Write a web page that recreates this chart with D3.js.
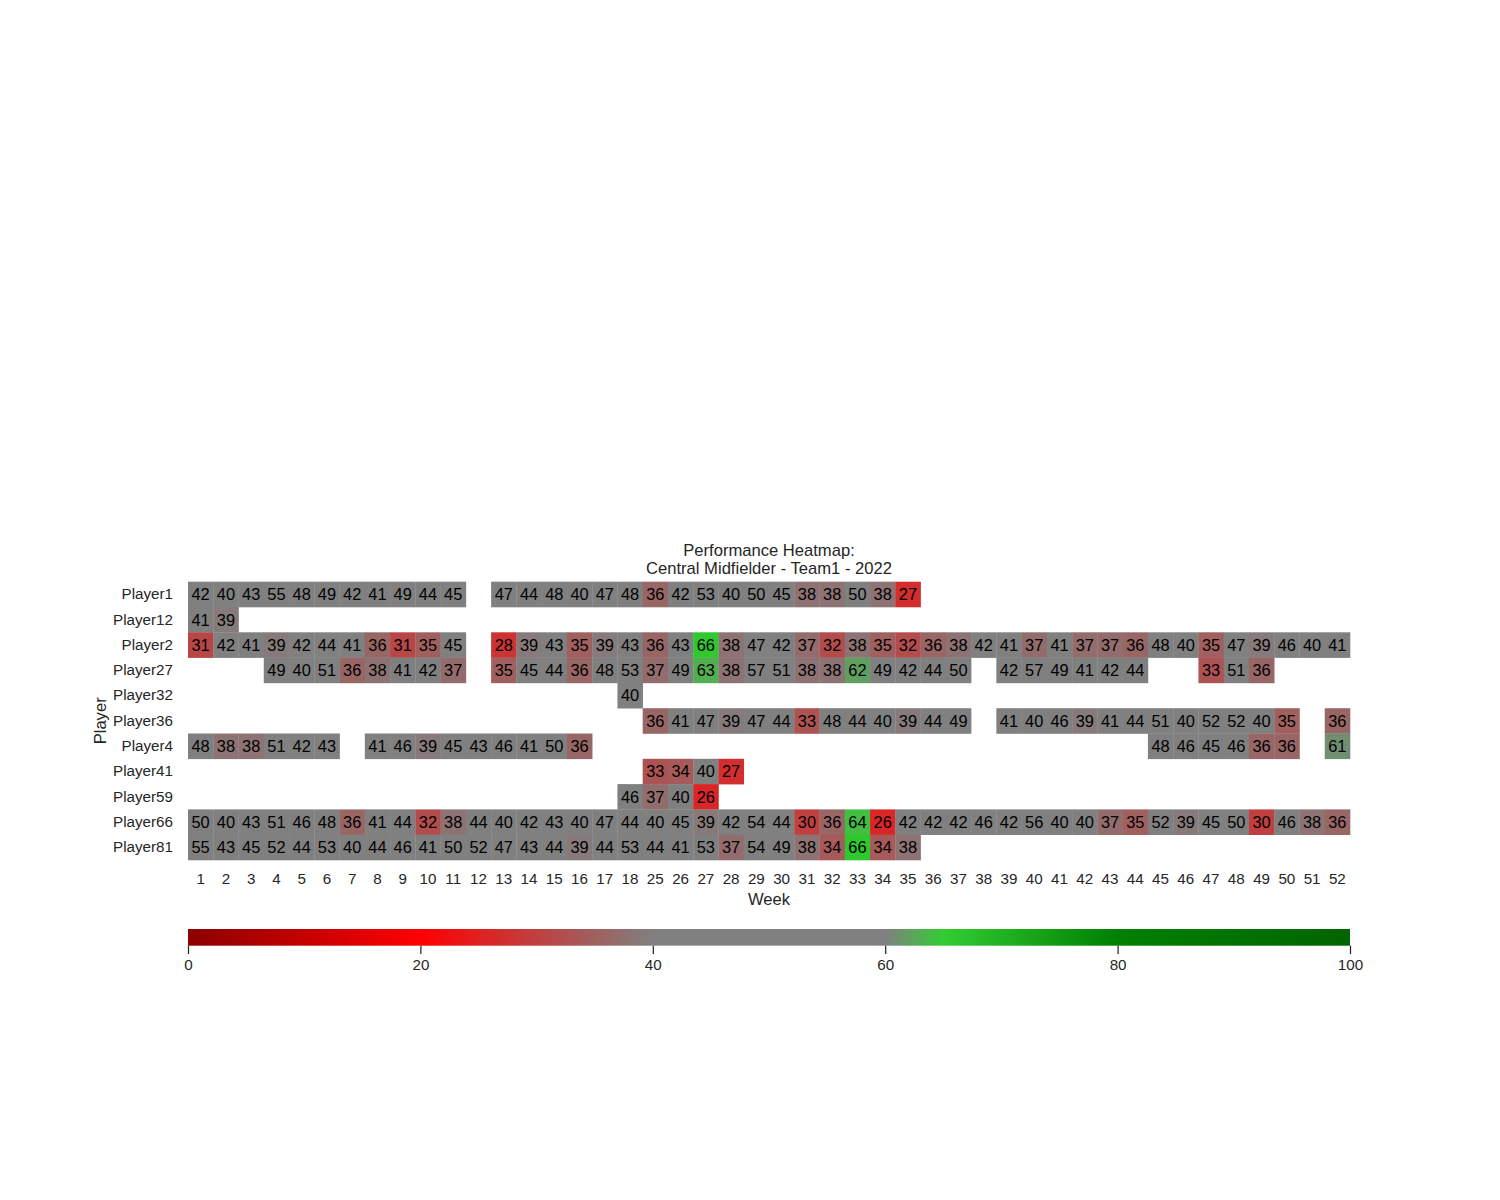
<!DOCTYPE html>
<html>
<head>
<meta charset="utf-8">
<script src="https://cdn.jsdelivr.net/npm/d3@7"></script>
<style>
  body { margin: 0; background: #fff; }
  svg { display: block; font-family: "Liberation Sans", Arial, sans-serif; }
</style>
</head>
<body>
<svg id="chart" width="1500" height="1200"></svg>
<script>
// ---------- DATA ----------
const titleLines = ["Performance Heatmap:", "Central Midfielder - Team1 - 2022"];
const weeks = [1,2,3,4,5,6,7,8,9,10,11,12,13,14,15,16,17,18,
               25,26,27,28,29,30,31,32,33,34,35,36,37,38,39,40,41,42,43,44,45,46,47,48,49,50,51,52];
const players = ["Player1","Player12","Player2","Player27","Player32","Player36","Player4","Player41","Player59","Player66","Player81"];
const _ = null;
// one row per player, one value per week (same order as `weeks`); null = no data
const scores = [
  // Player1
  [42,40,43,55,48,49,42,41,49,44,45,_,47,44,48,40,47,48, 36,42,53,40,50,45,38,38,50,38,27, _,_,_,_,_,_,_,_,_,_,_,_,_,_,_,_,_],
  // Player12
  [41,39,_,_,_,_,_,_,_,_,_,_,_,_,_,_,_,_, _,_,_,_,_,_,_,_,_,_,_, _,_,_,_,_,_,_,_,_,_,_,_,_,_,_,_,_],
  // Player2
  [31,42,41,39,42,44,41,36,31,35,45,_,28,39,43,35,39,43, 36,43,66,38,47,42,37,32,38,35,32, 36,38,42,41,37,41,37,37,36,48,40,35,47,39,46,40,41],
  // Player27
  [_,_,_,49,40,51,36,38,41,42,37,_,35,45,44,36,48,53, 37,49,63,38,57,51,38,38,62,49,42, 44,50,_,42,57,49,41,42,44,_,_,33,51,36,_,_,_],
  // Player32
  [_,_,_,_,_,_,_,_,_,_,_,_,_,_,_,_,_,40, _,_,_,_,_,_,_,_,_,_,_, _,_,_,_,_,_,_,_,_,_,_,_,_,_,_,_,_],
  // Player36
  [_,_,_,_,_,_,_,_,_,_,_,_,_,_,_,_,_,_, 36,41,47,39,47,44,33,48,44,40,39, 44,49,_,41,40,46,39,41,44,51,40,52,52,40,35,_,36],
  // Player4
  [48,38,38,51,42,43,_,41,46,39,45,43,46,41,50,36,_,_, _,_,_,_,_,_,_,_,_,_,_, _,_,_,_,_,_,_,_,_,48,46,45,46,36,36,_,61],
  // Player41
  [_,_,_,_,_,_,_,_,_,_,_,_,_,_,_,_,_,_, 33,34,40,27,_,_,_,_,_,_,_, _,_,_,_,_,_,_,_,_,_,_,_,_,_,_,_,_],
  // Player59
  [_,_,_,_,_,_,_,_,_,_,_,_,_,_,_,_,_,46, 37,40,26,_,_,_,_,_,_,_,_, _,_,_,_,_,_,_,_,_,_,_,_,_,_,_,_,_],
  // Player66
  [50,40,43,51,46,48,36,41,44,32,38,44,40,42,43,40,47,44, 40,45,39,42,54,44,30,36,64,26,42, 42,42,46,42,56,40,40,37,35,52,39,45,50,30,46,38,36],
  // Player81
  [55,43,45,52,44,53,40,44,46,41,50,52,47,43,44,39,44,53, 44,41,53,37,54,49,38,34,66,34,38, _,_,_,_,_,_,_,_,_,_,_,_,_,_,_,_,_]
];
const colorStops = [0, 20, 40, 60, 65, 80, 100];
const colorNames = ["#8b0000", "#ff0000", "#808080", "#808080", "#32cd32", "#008000", "#006400"];
const colorbarTicks = [0, 20, 40, 60, 80, 100];

// ---------- LAYOUT ----------
const svg = d3.select("#chart");
const mLeft = 188, mRight = 1350, mTop = 581.7, mBottom = 860;
const textColor = "#262626";
const tickFont = "15.2px", labelFont = "16.6px", annotFont = "16.4px";

const x = d3.scaleBand().domain(weeks.map(String)).range([mLeft, mRight]).padding(0);
const y = d3.scaleBand().domain(players).range([mTop, mBottom]).padding(0);
const color = d3.scaleLinear().domain(colorStops).range(colorNames).interpolate(d3.interpolateRgb).clamp(true);

const cells = [];
players.forEach((p, i) => {
  weeks.forEach((w, j) => {
    const v = scores[i][j];
    if (v !== null) cells.push({player: p, week: String(w), value: v});
  });
});

const g = svg.append("g");
g.selectAll("rect.cell").data(cells).join("rect")
  .attr("class", "cell")
  .attr("x", d => x(d.week))
  .attr("y", d => y(d.player))
  .attr("width", x.bandwidth() + 0.3)
  .attr("height", y.bandwidth() + 0.3)
  .attr("fill", d => color(d.value));

g.selectAll("text.annot").data(cells).join("text")
  .attr("class", "annot")
  .attr("x", d => x(d.week) + x.bandwidth() / 2)
  .attr("y", d => y(d.player) + y.bandwidth() / 2)
  .attr("dy", "0.36em")
  .attr("text-anchor", "middle")
  .attr("font-size", annotFont)
  .attr("fill", "#000")
  .text(d => d.value);

// x axis
const xAxis = svg.append("g")
  .attr("transform", `translate(0,${mBottom})`)
  .call(d3.axisBottom(x).tickSize(0).tickPadding(13.2));
xAxis.select(".domain").remove();
xAxis.selectAll("text").attr("font-size", tickFont).attr("fill", textColor)
  .attr("font-family", "Liberation Sans, Arial, sans-serif");

// y axis
const yAxis = svg.append("g")
  .attr("transform", `translate(${mLeft},0)`)
  .call(d3.axisLeft(y).tickSize(0).tickPadding(15));
yAxis.select(".domain").remove();
yAxis.selectAll("text").attr("font-size", tickFont).attr("fill", textColor)
  .attr("font-family", "Liberation Sans, Arial, sans-serif");

// axis labels
svg.append("text")
  .attr("x", (mLeft + mRight) / 2).attr("y", 905)
  .attr("text-anchor", "middle").attr("font-size", labelFont).attr("fill", textColor)
  .text("Week");
svg.append("text")
  .attr("transform", `translate(105.5,${(mTop + mBottom) / 2}) rotate(-90)`)
  .attr("text-anchor", "middle").attr("font-size", labelFont).attr("fill", textColor)
  .text("Player");

// title
svg.append("g").selectAll("text").data(titleLines).join("text")
  .attr("x", (mLeft + mRight) / 2)
  .attr("y", (d, i) => 555.5 + i * 18.5)
  .attr("text-anchor", "middle").attr("font-size", labelFont).attr("fill", textColor)
  .text(d => d);

// colorbar
const cbTop = 929, cbH = 16.7;
const cbScale = d3.scaleLinear().domain([0, 100]).range([mLeft, mRight]);
const defs = svg.append("defs");
const grad = defs.append("linearGradient").attr("id", "cbgrad")
  .attr("x1", "0%").attr("x2", "100%").attr("y1", "0%").attr("y2", "0%");
grad.selectAll("stop").data(colorStops).join("stop")
  .attr("offset", d => d + "%")
  .attr("stop-color", d => color(d));
svg.append("rect")
  .attr("x", cbScale(0)).attr("y", cbTop)
  .attr("width", cbScale(100) - cbScale(0)).attr("height", cbH)
  .attr("fill", "url(#cbgrad)");
const cbAxis = svg.append("g")
  .attr("transform", `translate(0,${cbTop + cbH})`)
  .call(d3.axisBottom(cbScale).tickValues(colorbarTicks).tickSize(8.3).tickPadding(5.5).tickFormat(d3.format("d")));
cbAxis.select(".domain").remove();
cbAxis.selectAll("line").attr("stroke", textColor).attr("stroke-width", 1.25);
cbAxis.selectAll("text").attr("font-size", tickFont).attr("fill", textColor)
  .attr("font-family", "Liberation Sans, Arial, sans-serif");
</script>
</body>
</html>
